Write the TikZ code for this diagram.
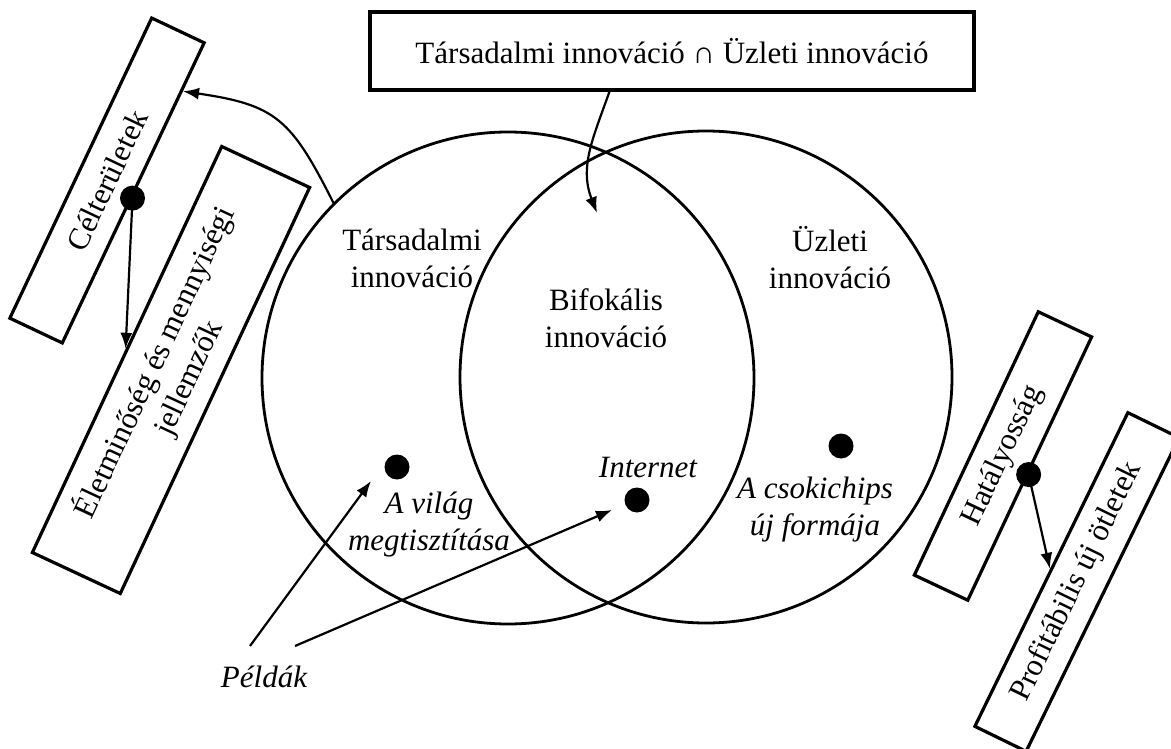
\documentclass[tikz,border=0pt]{standalone}
\usepackage{fontspec}
\setmainfont{Liberation Serif}
\usetikzlibrary{arrows.meta,calc}
\begin{document}
\begin{tikzpicture}[x=1pt,y=-1pt,
  lbl/.style={font=\fontsize{31}{37}\selectfont, align=center, inner sep=0pt},
  ilbl/.style={lbl, font=\fontsize{31}{37}\selectfont\itshape},
  rbox/.style={draw, line width=3.2pt, rectangle, inner sep=0pt, align=center, font=\fontsize{31}{37}\selectfont},
  venn/.style={draw, circle, line width=2.8pt, minimum size=492pt, inner sep=0pt, outer sep=0pt},
  dotn/.style={circle, fill=black, minimum size=25pt, inner sep=0pt},
  arr/.style={line width=2.2pt, -{Latex[length=16pt,width=12pt]}}
]
\useasboundingbox (0,0) rectangle (1171,749);

% Venn circles
\node[venn] (soc) at (508,378) {};
\node[venn] (biz) at (706,377) {};

% top box
\node[rbox, minimum width=604pt, minimum height=78pt] (top) at (672,51)
  {Társadalmi innováció ∩ Üzleti innováció};

% rotated boxes
\node[rbox, minimum width=332pt, minimum height=58pt, rotate=64.7] (box1) at (107,180.5) {Célterületek};
\node[rbox, minimum width=448pt, minimum height=97pt, rotate=65] (box2) at (171,370) {Életminőség és mennyiségi\\jellemzők};
\node[rbox, minimum width=291pt, minimum height=59pt, rotate=64.8] (box3) at (1003,456) {Hatályosság};
\node[rbox, minimum width=349pt, minimum height=57pt, rotate=64] (box4) at (1077,582) {Profitábilis új ötletek};

% labels
\node[lbl] (socl) at (412,258) {Társadalmi\\innováció};
\node[lbl] (bizl) at (830,258) {Üzleti\\innováció};
\node[lbl] (bifl) at (606,318) {Bifokális\\innováció};
\node[ilbl] (inet) at (648,468) {Internet};
\node[ilbl] (vilag) at (429,525) {A világ\\megtisztítása};
\node[ilbl] (csoki) at (815,510) {A csokichips\\új formája};
\node[ilbl] (pel) at (264,677) {Példák};

% dots
\node[dotn] (dA) at (397,467) {};
\node[dotn] (dB) at (637,500) {};
\node[dotn] (dC) at (841,446) {};
\node[dotn] (d1) at ($(box1.south)!0.03!(box1.south west)$) {};
\node[dotn] (d3) at ($(box3.south)!0.04!(box3.south west)$) {};

% coordinates
\coordinate (c1tip) at ($(box1.south)!0.675!(box1.south east)$);
\coordinate (tstart) at ($(top.south west)!0.397!(top.south east)$);
\coordinate (ttip) at (597,213);
\coordinate (p1) at (250,646);
\coordinate (p2) at (295,646);
\coordinate (t1) at (371,481);
\coordinate (t2) at (612,510);

% connectors
\draw[arr] (soc.135) .. controls (291,118.5) and (276,105) .. (c1tip);
\draw[arr] (tstart) .. controls (593.5,137) and (579,166.5) .. (ttip);
\draw[arr] (d1.center) -- (box2.north);
\draw[arr] (d3.center) -- (box4.north);
\draw[arr] (p1) -- (t1);
\draw[arr] (p2) -- (t2);
\end{tikzpicture}
\end{document}
